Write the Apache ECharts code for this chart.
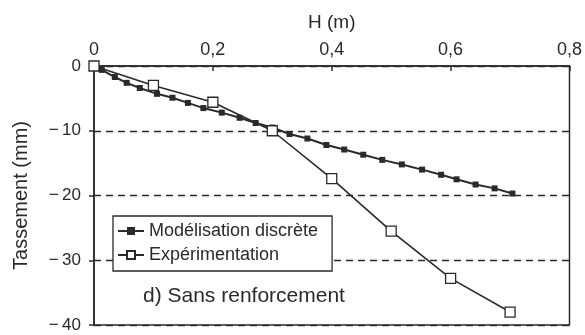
<!DOCTYPE html>
<html>
<head>
<meta charset="utf-8">
<script src="https://cdn.jsdelivr.net/npm/echarts@6/dist/echarts.min.js"></script>
<style>
  html, body { margin: 0; padding: 0; background: #fff; }
  #chart { width: 585px; height: 335px; }
</style>
</head>
<body>
<div id="chart"></div>
<script>
// Settlement vs height, unreinforced case
const modelH = [0, 0.013, 0.035, 0.055, 0.077, 0.106, 0.132, 0.158, 0.184, 0.215, 0.245, 0.272, 0.300,
  0.329, 0.359, 0.391, 0.421, 0.453, 0.485, 0.518, 0.552, 0.584, 0.610, 0.642, 0.674, 0.704];
const modelS = [0, -0.6, -1.7, -2.6, -3.4, -4.3, -4.9, -5.7, -6.5, -7.2, -8.0, -8.8, -9.5,
  -10.5, -11.2, -12.2, -12.9, -13.7, -14.5, -15.2, -16.0, -16.8, -17.5, -18.3, -18.9, -19.7];
const expH = [0, 0.1, 0.2, 0.3, 0.4, 0.5, 0.6, 0.7];
const expS = [0, -3.0, -5.6, -10.0, -17.4, -25.5, -32.8, -38.0];

const xTicks = [0, 0.2, 0.4, 0.6, 0.8];
const yTicks = [0, -10, -20, -30, -40];

const seriesNames = ['Modélisation discrète', 'Expérimentation'];
const panelLabel = 'd) Sans renforcement';

const ink = '#2a2a2a';
const font = 'Liberation Sans, Arial, sans-serif';

const chart = echarts.init(document.getElementById('chart'), null, { renderer: 'canvas' });

chart.setOption({
  animation: false,
  backgroundColor: '#fff',
  textStyle: { fontFamily: font, color: ink },
  grid: {
    left: 94, right: 14, top: 66, bottom: 10,
    show: true, borderColor: ink, borderWidth: 1.5, backgroundColor: 'transparent'
  },
  xAxis: {
    type: 'value', position: 'top',
    min: xTicks[0], max: xTicks[xTicks.length - 1], interval: 0.2,
    name: 'H (m)', nameLocation: 'middle', nameGap: 34,
    nameTextStyle: { fontSize: 19, color: ink, fontFamily: font },
    axisLine: { lineStyle: { color: ink, width: 1.5 } },
    axisTick: { inside: true, length: 5, lineStyle: { color: ink, width: 1.5 } },
    axisLabel: {
      fontSize: 18, color: ink, margin: 7, fontFamily: font,
      formatter: v => xTicks.includes(Math.round(v * 10) / 10) ? String(Math.round(v * 10) / 10).replace('.', ',') : ''
    },
    splitLine: { show: false }
  },
  yAxis: {
    type: 'value', min: -40, max: 0, interval: 10,
    name: 'Tassement (mm)', nameLocation: 'middle', nameGap: 63, nameRotate: 90,
    nameTextStyle: { fontSize: 20, color: ink, fontFamily: font },
    axisLine: { onZero: false, lineStyle: { color: ink, width: 1.5 } },
    axisTick: { inside: false, length: 5, lineStyle: { color: ink, width: 1.5 } },
    axisLabel: {
      fontSize: 17, color: ink, margin: 13, fontFamily: font,
      formatter: v => yTicks.includes(v) ? (v < 0 ? '\u2212\u2009' + Math.abs(v) : String(v)) : ''
    },
    splitLine: { show: true, lineStyle: { color: ink, type: [7, 5], width: 1.3 } }
  },
  legend: {
    left: 113, top: 216,
    orient: 'vertical',
    itemGap: 6, itemWidth: 26, itemHeight: 10,
    padding: [6, 14, 7, 4],
    borderColor: ink, borderWidth: 1.3,
    backgroundColor: '#fff',
    textStyle: { fontSize: 18, color: ink, fontFamily: font },
    data: seriesNames
  },
  graphic: [{
    type: 'text', left: 143, top: 286,
    style: { text: panelLabel, fontSize: 21, fill: ink, fontFamily: font }
  }],
  series: [
    {
      name: seriesNames[0], type: 'line',
      data: modelH.map((h, i) => [h, modelS[i]]),
      symbol: 'rect', symbolSize: 6,
      lineStyle: { color: ink, width: 2 },
      itemStyle: { color: ink, borderColor: ink, borderWidth: 0 },
      z: 3
    },
    {
      name: seriesNames[1], type: 'line',
      data: expH.map((h, i) => [h, expS[i]]),
      symbol: 'rect', symbolSize: 10,
      lineStyle: { color: ink, width: 1.6 },
      itemStyle: { color: '#fff', borderColor: ink, borderWidth: 1.3 },
      z: 4
    }
  ]
});
</script>
</body>
</html>
